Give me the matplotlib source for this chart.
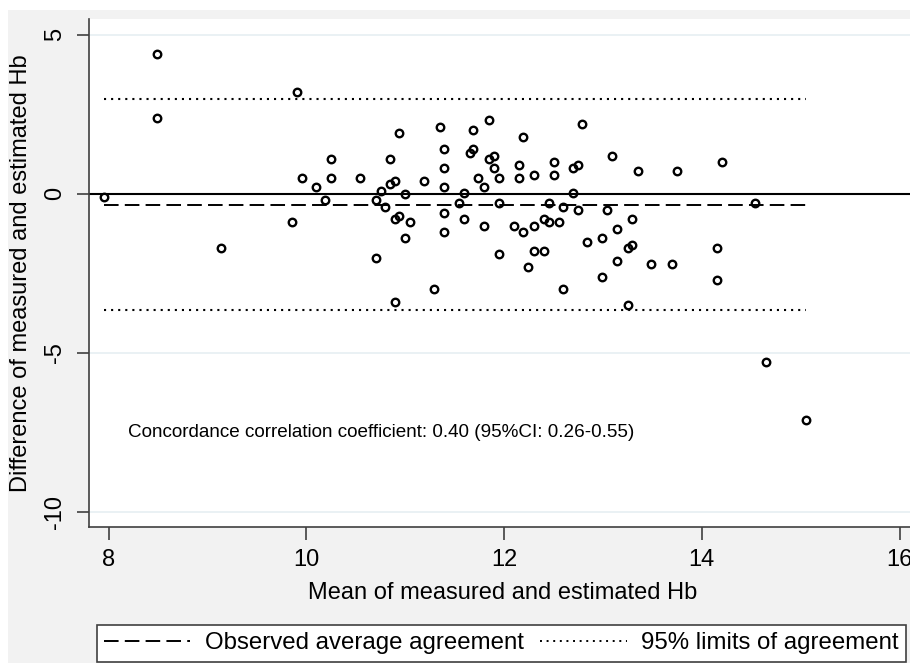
import numpy as np
import matplotlib.pyplot as plt
from matplotlib.lines import Line2D
from matplotlib.patches import Rectangle

plt.rcParams['font.family'] = ['Liberation Sans', 'DejaVu Sans']

# mean of measured and estimated Hb
mean_hb = [7.95, 8.49, 8.49, 9.14, 9.90, 9.85, 9.95, 10.10, 10.25, 10.25,
           10.19, 10.54, 10.70, 10.70, 10.75, 10.79, 10.85, 10.85, 10.90, 10.94,
           11.00, 10.90, 10.94, 11.05, 11.00, 10.90, 11.19, 11.29, 11.35, 11.39,
           11.39, 11.39, 11.39, 11.39, 11.54, 11.59, 11.59, 11.69, 11.65, 11.69,
           11.85, 11.85, 11.90, 11.90, 11.74, 11.80, 11.95, 11.95, 11.80, 11.95,
           12.19, 12.15, 12.15, 12.30, 12.10, 12.19, 12.30, 12.30, 12.40, 12.24,
           12.40, 12.45, 12.45, 12.55, 12.50, 12.50, 12.60, 12.60, 12.70, 12.75,
           12.70, 12.75, 12.79, 12.84, 12.99, 12.99, 13.04, 13.09, 13.14, 13.14,
           13.25, 13.29, 13.29, 13.25, 13.35, 13.49, 13.70, 13.75, 14.15, 14.15,
           14.20, 14.54, 14.65, 15.05]
# difference of measured and estimated Hb
diff_hb = [-0.10, 4.39, 2.39, -1.70, 3.20, -0.89, 0.50, 0.20, 1.10, 0.50,
           -0.21, 0.50, -0.20, -2.01, 0.09, -0.42, 1.10, 0.30, 0.39, 1.91,
           0.00, -0.80, -0.70, -0.89, -1.39, -3.42, 0.39, -2.99, 2.11, 1.40,
           0.80, 0.20, -0.60, -1.21, -0.30, 0.01, -0.81, 1.99, 1.29, 1.40,
           2.30, 1.10, 1.19, 0.80, 0.50, 0.20, 0.50, -0.30, -1.02, -1.90,
           1.79, 0.89, 0.50, 0.59, -1.02, -1.21, -1.02, -1.81, -1.81, -2.30,
           -0.81, -0.89, -0.30, -0.89, 0.99, 0.59, -0.42, -2.99, 0.80, 0.89,
           0.01, -0.51, 2.18, -1.51, -1.39, -2.61, -0.51, 1.19, -1.11, -2.11,
           -1.71, -1.60, -0.81, -3.49, 0.70, -2.21, -2.21, 0.70, -1.71, -2.70,
           0.99, -0.30, -5.30, -7.11]

mean_diff = -0.35
loa_upper = 2.96
loa_lower = -3.66
ccc_text = 'Concordance correlation coefficient: 0.40 (95%CI: 0.26-0.55)'
x_ticks = [8, 10, 12, 14, 16]
y_ticks = [-10, -5, 0, 5]

W, H = 910, 663
fig = plt.figure(figsize=(W / 100, H / 100), dpi=100, facecolor='white')
fig.patches.append(Rectangle((8 / W, 0), 1, 1 - 10 / H, transform=fig.transFigure,
                             facecolor='#f2f2f2', edgecolor='none', zorder=-10))

ax = fig.add_axes([88.7 / W, 1 - 526.7 / H, 828.6 / W, 507.7 / H])
ax.set_facecolor('white')
ax.set_xlim(7.797, 16.18)
ax.set_ylim(-10.47, 5.49)

for yv in y_ticks:
    ax.axhline(yv, color='#e6eff2', lw=1.2, zorder=0)

dash = (0, (7.5, 3.2))
dots = (0, (1, 2.4))
xmin, xmax = min(mean_hb), max(mean_hb)
ax.axhline(0, color='black', lw=1.5, zorder=2)
ax.hlines(mean_diff, xmin, xmax, color='black', lw=1.4, linestyles=dash, zorder=2)
ax.hlines([loa_upper, loa_lower], xmin, xmax, color='black', lw=1.5,
          linestyles=dots, zorder=2)

ax.plot(mean_hb, diff_hb, 'o', ms=5.4, mfc='none', mec='black', mew=1.7, zorder=3)

ax.text(8.19, -7.52, ccc_text, fontsize=13.6, va='center', ha='left')

for s in ['top', 'right']:
    ax.spines[s].set_visible(False)
for s in ['left', 'bottom']:
    ax.spines[s].set_color('#404040')
    ax.spines[s].set_linewidth(1.2)

ax.set_xticks(x_ticks)
ax.set_yticks(y_ticks)
ax.set_yticklabels([str(v) for v in y_ticks], rotation=90, va='center')
ax.tick_params(axis='both', labelsize=17, length=9, width=1.2, color='#404040', pad=7)

ax.set_xlabel('Mean of measured and estimated Hb', fontsize=17, labelpad=8)
ax.set_ylabel('Difference of measured and estimated Hb', fontsize=17, labelpad=9)

handles = [Line2D([], [], color='black', lw=1.4, linestyle=dash),
           Line2D([], [], color='black', lw=1.4, linestyle=dots)]
leg = fig.legend(handles, ['Observed average agreement', '95% limits of agreement'],
                 loc='lower left', bbox_to_anchor=(96.7 / W, 1.5 / H, 809 / W, 44 / H),
                 mode='expand', ncol=2, fontsize=17.3, frameon=True, fancybox=False,
                 edgecolor='#404040', facecolor='white', framealpha=1,
                 handlelength=3.6, handletextpad=0.6, columnspacing=0.9,
                 borderpad=0.3, borderaxespad=0)
leg.get_frame().set_linewidth(1.2)

fig.savefig('out.png', dpi=100, facecolor=fig.get_facecolor())
